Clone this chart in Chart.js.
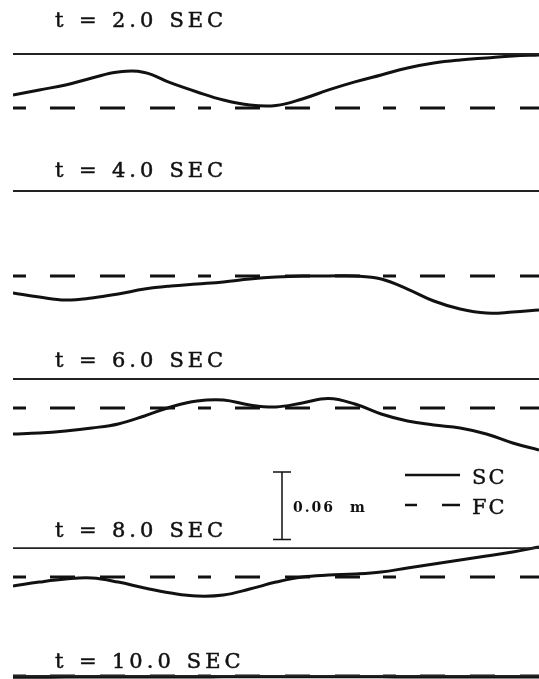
<!DOCTYPE html>
<html>
<head>
<meta charset="utf-8">
<script src="https://cdn.jsdelivr.net/npm/chart.js@4.4.1/dist/chart.umd.min.js"></script>
<style>
    html, body { margin: 0; padding: 0; background: #fff; }
    #wrap { position: relative; width: 539px; height: 679px; }
</style>
</head>
<body>
<div id="wrap"><canvas id="chart"></canvas></div>
<script>
// position along the channel (% of length)
const xPos = [0, 5, 10, 15, 20, 25, 30, 35, 40, 45, 50, 55, 60, 65, 70, 75, 80, 85, 90, 95, 100];
const panelTimes = ['2.0', '4.0', '6.0', '8.0', '10.0'];

// SC surface, mm relative to each panel's reference line
const scT2 = [-36.4, -31.9, -27.5, -21.3, -16.0, -16.4, -25.7, -33.7, -40.8, -45.3, -45.7, -39.9, -31.9, -24.8, -18.6, -12.4, -8.0, -5.3, -3.5, -1.8, -0.9];
const scT4 = [-90.5, -94.1, -96.7, -94.9, -91.4, -87.0, -84.3, -82.5, -80.7, -78.1, -76.3, -75.4, -75.4, -75.4, -78.1, -87.0, -97.6, -104.7, -108.3, -107.4, -105.6];
const scT6 = [-48.8, -47.9, -46.1, -43.5, -39.9, -32.8, -24.8, -19.5, -18.6, -23.1, -24.8, -21.3, -17.3, -22.2, -31.1, -37.3, -40.8, -43.5, -48.8, -56.8, -63.0];
const scT8 = [-33.7, -30.2, -27.5, -26.6, -30.2, -35.5, -39.9, -42.6, -41.7, -36.4, -30.2, -25.7, -24.0, -23.1, -21.3, -17.7, -14.2, -10.6, -7.1, -3.5, 0.9];
const scT10 = [-1.2, -1.2, -1.0, -1.0, -0.9, -0.9, -0.9, -0.9, -0.8, -0.8, -0.8, -0.8, -0.8, -0.8, -0.8, -0.9, -0.9, -0.9, -0.9, -0.9, -0.9];

// FC level (flat), mm relative to reference line
const fcLevel = [-47.9, -75.4, -25.7, -25.7, 0];

const scaleBarMm = 60;
const scaleBarLabel = '0.06 m';
const legendLabels = ['SC', 'FC'];

// layout: stacked position of each panel's reference line (mm from top)
const panelBase = [-47.9, -169.5, -336.3, -486.3, -599.8];
const titleLift = [27, 14, 12, 11, 8];
const scSeries = [scT2, scT4, scT6, scT8, scT10];

const ink = '#111';
const fcDash = [13, 24, 25, 25, 25, 25, 25, 23];

const datasets = [];
panelBase.forEach((base, i) => {
    datasets.push({
        label: 'ref ' + panelTimes[i],
        data: [{ x: xPos[0], y: base }, { x: xPos[xPos.length - 1], y: base }],
        borderColor: '#222', borderWidth: 1.8, pointRadius: 0, tension: 0
    });
    datasets.push({
        label: 'FC ' + panelTimes[i],
        data: [{ x: xPos[0], y: base + fcLevel[i] }, { x: xPos[xPos.length - 1], y: base + fcLevel[i] }],
        borderColor: ink, borderWidth: 3, borderDash: fcDash, pointRadius: 0, tension: 0
    });
    datasets.push({
        label: 'SC ' + panelTimes[i],
        data: xPos.map((x, j) => ({ x: x, y: base + scSeries[i][j] })),
        borderColor: ink, borderWidth: 3, pointRadius: 0, tension: 0.4
    });
});

function boldText(ctx, txt, x, y) {
    ctx.fillText(txt, x, y);
    ctx.strokeText(txt, x, y);
}

const annotate = {
    id: 'annotate',
    afterDraw(chart) {
        const ctx = chart.ctx;
        const yS = chart.scales.y;
        ctx.save();
        ctx.fillStyle = ink;
        ctx.strokeStyle = ink;
        ctx.textBaseline = 'alphabetic';

        // panel titles
        ctx.font = "21px 'DejaVu Serif'";
        ctx.letterSpacing = '4px';
        ctx.lineWidth = 0.5;
        panelBase.forEach((base, i) => {
            const y = yS.getPixelForValue(base) - titleLift[i];
            boldText(ctx, 't', 55, y);
            boldText(ctx, '=', 79, y);
            boldText(ctx, panelTimes[i], 112, y);
            const w = ctx.measureText(panelTimes[i]).width;
            boldText(ctx, 'SEC', 112 + w + 12, y);
        });

        // scale bar
        const top = yS.getPixelForValue(panelBase[3] + 67.5);
        const bot = yS.getPixelForValue(panelBase[3] + 67.5 - scaleBarMm);
        ctx.lineWidth = 1.5;
        ctx.beginPath();
        ctx.moveTo(282, top); ctx.lineTo(282, bot);
        ctx.moveTo(273, top); ctx.lineTo(291, top);
        ctx.moveTo(273, bot); ctx.lineTo(291, bot);
        ctx.stroke();
        ctx.font = "bold 14px 'DejaVu Serif'";
        ctx.letterSpacing = '2px';
        const parts = scaleBarLabel.split(' ');
        ctx.fillText(parts[0], 293, 512);
        ctx.fillText(parts[1], 350, 512);

        // legend
        ctx.lineWidth = 2.5;
        ctx.beginPath();
        ctx.moveTo(405, 475); ctx.lineTo(460, 475);
        ctx.moveTo(405, 505); ctx.lineTo(417, 505);
        ctx.moveTo(442, 505); ctx.lineTo(460, 505);
        ctx.stroke();
        ctx.font = "21px 'DejaVu Serif'";
        ctx.letterSpacing = '2px';
        ctx.lineWidth = 0.4;
        boldText(ctx, legendLabels[0], 472, 484);
        boldText(ctx, legendLabels[1], 472, 514);
        ctx.restore();
    }
};

new Chart(document.getElementById('chart'), {
    type: 'line',
    data: { datasets: datasets },
    options: {
        responsive: true,
        maintainAspectRatio: false,
        animation: false,
        layout: { padding: { left: 13, right: 0, top: 0, bottom: 0 } },
        plugins: { legend: { display: false }, tooltip: { enabled: false } },
        scales: {
            x: { type: 'linear', min: 0, max: 100, display: false },
            y: { type: 'linear', min: -602.5, max: 0, display: false }
        }
    },
    plugins: [annotate]
});
</script>
</body>
</html>
